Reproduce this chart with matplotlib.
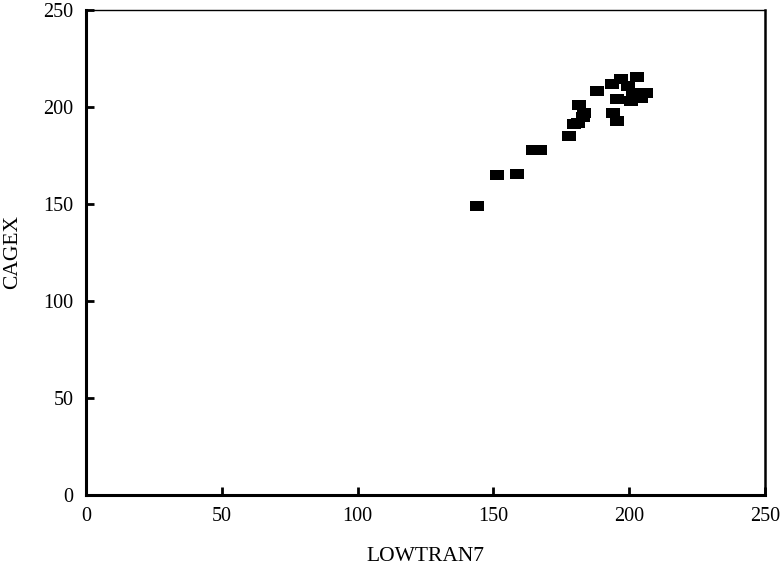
import matplotlib.pyplot as plt

lowtran7 = [144, 151.5, 158.5, 164.5, 167, 178, 179.5, 181, 183, 183.5, 181.5, 188,
            193.5, 197, 203, 199.5, 206, 195.5, 200.5, 204.5, 194, 195.5, 201.5]
cagex = [149, 165, 165.5, 178, 178, 185, 191, 192, 195, 197, 201, 208,
         212, 214.5, 215.5, 211, 207, 204, 203, 204.5, 197, 193, 207]

ticks = [0, 50, 100, 150, 200, 250]

plt.rcParams['font.family'] = ['Liberation Serif', 'DejaVu Serif']

fig = plt.figure(figsize=(7.84, 5.71), dpi=100)
ax = fig.add_axes([0.1097, 0.1331, 0.8661, 0.8494])

rect = [(-1.25, -1), (1.25, -1), (1.25, 1), (-1.25, 1)]
ax.plot(lowtran7, cagex, linestyle='none', marker=rect, markersize=9.6,
        color='black', markeredgewidth=0)

ax.set_xlim(0, 250)
ax.set_ylim(0, 250)
ax.set_xticks(ticks)
ax.set_yticks(ticks)
ax.tick_params(direction='in', length=6, width=2, labelsize=14.5, pad=9,
               top=False, right=False)

for side in ['left', 'bottom']:
    ax.spines[side].set_linewidth(2.2)
ax.spines['right'].set_linewidth(1.8)
ax.spines['top'].set_linewidth(1.0)

ax.set_xlabel('LOWTRAN7', fontsize=15.5, labelpad=15)
ax.set_ylabel('CAGEX', fontsize=15.5, labelpad=15)

fig.savefig('out.png', dpi=100)
